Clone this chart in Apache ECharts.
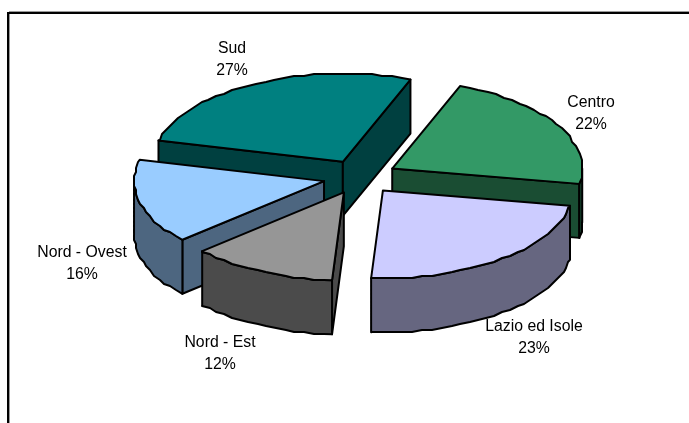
<!DOCTYPE html>
<html>
<head>
<meta charset="utf-8">
<title>Ripartizione</title>
<style>
html,body{margin:0;padding:0;background:#fff;}
#tu_1{width:689px;height:423px;}
</style>
<script src="https://cdn.jsdelivr.net/npm/echarts@6/dist/echarts.min.js"></script>
</head>
<body>
<div id="tu_1"></div>
<script>
var names=['Sud','Centro','Lazio ed Isole','Nord - Est','Nord - Ovest'];
var values=[26.9,22,23.2,12.4,15.5];
var percent=['27%','22%','23%','12%','16%'];
var topColor=['#008080','#339966','#CCCCFF','#969696','#99CCFF'];
var wallColor=['#004040','#1A4D33','#666680','#4B4B4B','#4D6680'];
var labelX=[232,591,534,220,82];
var labelY=[60,114,338,354,264];
var drawOrder=[0,1,4,2,3];//dal fondo verso il davanti

var cx=360,cy=177,rx=190,ry=88,depth=54,explode=0.195,startDeg=284;

var total=0;
for(var i=0;i<values.length;i++){
	total+=values[i];
}
var angles=[],a0=startDeg;
for(var i=0;i<values.length;i++){
	if(a0>=360){
		a0-=360;
	}
	angles[i]=[a0,a0+values[i]/total*360];
	a0=angles[i][1];
}
function rad(d){
	return d*Math.PI/180;
}
function onEllipse(ox,oy,deg){
	return [ox+rx*Math.sin(rad(deg)),oy-ry*Math.cos(rad(deg))];
}
//bordo un po' seghettato come nell'originale
function rough(p){
	return [Math.round(p[0]/2)*2,Math.round(p[1]/2)*2];
}
function arcPoints(ox,oy,from,to){
	var list=[onEllipse(ox,oy,from)];
	for(var d=Math.ceil(from/3)*3;d<to;d+=3){
		list.push(rough(onEllipse(ox,oy,d)));
	}
	list.push(onEllipse(ox,oy,to));
	return list;
}
function down(p){
	return [p[0],p[1]+depth];
}
function poly(points,fill){
	return {type:'polygon',shape:{points:points},style:{fill:fill,stroke:'#000',lineWidth:2,lineJoin:'round'}};
}
function renderSlice(params,api){
	var idx=drawOrder[params.dataIndex];
	var s=angles[idx][0],e=angles[idx][1];
	var mid=(s+e)/2;
	var ox=cx+explode*rx*Math.sin(rad(mid));
	var oy=cy-explode*ry*Math.cos(rad(mid));
	var apex=[ox,oy];
	var pStart=onEllipse(ox,oy,s),pEnd=onEllipse(ox,oy,e);
	var children=[];
	//pareti radiali, solo quelle rivolte verso chi guarda
	if(Math.sin(rad(s))<0){
		children.push(poly([apex,pStart,down(pStart),down(apex)],wallColor[idx]));
	}
	if(Math.sin(rad(e))>0){
		children.push(poly([apex,pEnd,down(pEnd),down(apex)],wallColor[idx]));
	}
	//parete esterna, parte davanti
	var from=Math.max(s,90),to=Math.min(e,270);
	if(to>from){
		var up=arcPoints(ox,oy,from,to),low=[];
		for(var k=up.length-1;k>=0;k--){
			low.push(down(up[k]));
		}
		children.push(poly(up.concat(low),wallColor[idx]));
	}
	//faccia superiore
	children.push(poly([apex].concat(arcPoints(ox,oy,s,e)),topColor[idx]));
	return {type:'group',children:children};
}
function renderLabel(params,api){
	var idx=params.dataIndex;
	return {
		type:'text',
		style:{
			text:names[idx]+'\n'+percent[idx],
			x:labelX[idx],y:labelY[idx],
			align:'center',verticalAlign:'middle',
			fill:'#000',
			font:'15.8px "Liberation Sans", Arial, sans-serif',
			lineHeight:22
		}
	};
}
var myChart_1=echarts.init(document.getElementById('tu_1'),null,{renderer:'canvas'});
var option={
	animation:false,
	backgroundColor:'#fff',
	graphic:[
		{type:'line',shape:{x1:9,y1:11.5,x2:689,y2:11.5},style:{stroke:'#999',lineWidth:1}},
		{type:'line',shape:{x1:9.5,y1:14,x2:9.5,y2:423},style:{stroke:'#999',lineWidth:1}},
		{type:'line',shape:{x1:7,y1:13,x2:689,y2:13},style:{stroke:'#000',lineWidth:2}},
		{type:'line',shape:{x1:8,y1:12,x2:8,y2:423},style:{stroke:'#000',lineWidth:2}}
	],
	series:[
		{
			type:'custom',
			coordinateSystem:'none',
			renderItem:renderSlice,
			data:drawOrder.map(function(n){return values[n];})
		},
		{
			type:'custom',
			coordinateSystem:'none',
			renderItem:renderLabel,
			data:values
		}
	]
};
myChart_1.setOption(option);
</script>
</body>
</html>
